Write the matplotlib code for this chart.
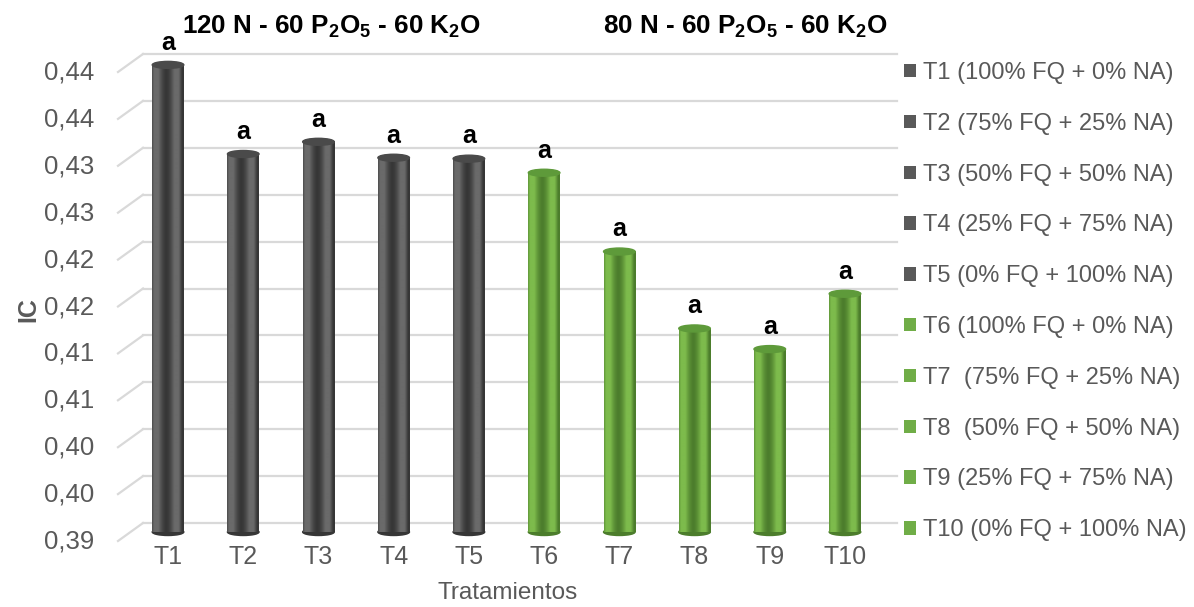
import numpy as np
import matplotlib.pyplot as plt
from decimal import Decimal, ROUND_HALF_UP
from matplotlib.colors import LinearSegmentedColormap
from matplotlib.patches import Ellipse, Patch
from matplotlib.transforms import ScaledTranslation

plt.rcParams['font.family'] = ['Liberation Sans', 'DejaVu Sans']
plt.rcParams['mathtext.fontset'] = 'custom'
plt.rcParams['mathtext.rm'] = 'Liberation Sans'
plt.rcParams['mathtext.bf'] = 'Liberation Sans:bold'

# datos
tratamientos = ['T1', 'T2', 'T3', 'T4', 'T5', 'T6', 'T7', 'T8', 'T9', 'T10']
ic = [0.4398, 0.4303, 0.4316, 0.4299, 0.4298, 0.4283, 0.4199, 0.4117, 0.4095, 0.4154]
letras = ['a'] * 10
grupo = [0, 0, 0, 0, 0, 1, 1, 1, 1, 1]
leyenda = ['T1 (100% FQ + 0% NA)', 'T2 (75% FQ + 25% NA)', 'T3 (50% FQ + 50% NA)',
           'T4 (25% FQ + 75% NA)', 'T5 (0% FQ + 100% NA)', 'T6 (100% FQ + 0% NA)',
           'T7  (75% FQ + 25% NA)', 'T8  (50% FQ + 50% NA)', 'T9 (25% FQ + 75% NA)',
           'T10 (0% FQ + 100% NA)']
y_ticks = ['0.390', '0.395', '0.400', '0.405', '0.410', '0.415', '0.420',
           '0.425', '0.430', '0.435', '0.440']
titulos = [r'120 N - 60 P$_\mathbf{2}$O$_\mathbf{5}$ - 60 K$_\mathbf{2}$O',
           r'80 N - 60 P$_\mathbf{2}$O$_\mathbf{5}$ - 60 K$_\mathbf{2}$O']

# colores: (oscuro, claro, tapa, leyenda)
colores = [('#363636', '#6a6a6a', '#4a4a4a', '#595959'),
           ('#4c7d2c', '#7dbb4c', '#5e9a3a', '#70ad47')]

fig = plt.figure(figsize=(11.94, 6.07), dpi=100)
W, H = 1194, 607
ax = fig.add_axes([118 / W, 75 / H, (897 - 118) / W, (532 - 63) / H])
ymin, ymax = 0.39, 0.44
px_per_unit = (532 - 63) / (ymax - ymin)
ancho = 0.42
x = np.arange(len(tratamientos))

u = np.linspace(-1, 1, 64)
for i, v in enumerate(ic):
    dark, light, cap, _ = colores[grupo[i]]
    cm = LinearSegmentedColormap.from_list('c', [dark, light, light, dark])
    shade = 1 - np.abs(u + 0.1) ** 1.6
    ax.imshow(shade[None, :], cmap=cm, vmin=0, vmax=1, aspect='auto',
              extent=(x[i] - ancho / 2, x[i] + ancho / 2, ymin, v),
              zorder=3, interpolation='bilinear')
    eh = 7 / px_per_unit
    ax.add_patch(Ellipse((x[i], ymin), ancho, eh, color=dark, zorder=2.5, clip_on=False))
    ax.add_patch(Ellipse((x[i], v), ancho, eh, color=cap, zorder=4, clip_on=False))
    ax.annotate(letras[i], (x[i], v), xytext=(0, 16), textcoords='offset points',
                ha='center', va='center', fontsize=18, fontweight='bold', zorder=5)

ax.set_xlim(-50 / 75.2, 9 + 52 / 75.2)
ax.set_ylim(ymin, ymax)

# lineas de cuadricula (pared trasera con perspectiva)
back = 9 / px_per_unit
xfrac = 25 / (897 - 118)
yt = [float(t) for t in y_ticks]
for t in yt:
    ax.plot([xfrac, 1], [t + back, t + back], color='#d9d9d9', lw=1.6,
            transform=ax.get_yaxis_transform(), zorder=1, clip_on=False)
    ax.plot([0, xfrac], [t - back, t + back], color='#d9d9d9', lw=1.6,
            transform=ax.get_yaxis_transform(), zorder=1, clip_on=False)

ax.set_yticks(yt)
ax.set_yticklabels([str(Decimal(t).quantize(Decimal('0.01'), ROUND_HALF_UP)).replace('.', ',')
                    for t in y_ticks])
ax.set_xticks(x)
ax.set_xticklabels(tratamientos)
ax.tick_params(axis='y', length=0, pad=17, labelsize=18.5, labelcolor='#595959')
ax.tick_params(axis='x', length=0, pad=9, labelsize=18, labelcolor='#595959')
for lab in ax.get_yticklabels():
    lab.set_transform(lab.get_transform() + ScaledTranslation(0, -7 / 100, fig.dpi_scale_trans))
for s in ax.spines.values():
    s.set_visible(False)

ax.set_xlabel('Tratamientos', fontsize=17.5, color='#595959', labelpad=10)
fig.text(28 / W, 1 - 310 / H, 'IC', rotation=90, ha='center', va='center',
         fontsize=18, fontweight='bold', color='#595959')

fig.text(182 / W, 1 - 27 / H, titulos[0], ha='left', va='center',
         fontsize=18.7, fontweight='bold')
fig.text(603 / W, 1 - 27 / H, titulos[1], ha='left', va='center',
         fontsize=18.7, fontweight='bold')

handles = [Patch(facecolor=colores[g][3]) for g in grupo]
fig.legend(handles, leyenda, loc='upper left', bbox_to_anchor=(904 / W, 1 - 62 / H),
           frameon=False, fontsize=17, labelcolor='#595959', handlelength=0.5,
           handleheight=0.5, handletextpad=0.3, labelspacing=1.22,
           borderpad=0, borderaxespad=0)

fig.savefig('out.png', dpi=100)
